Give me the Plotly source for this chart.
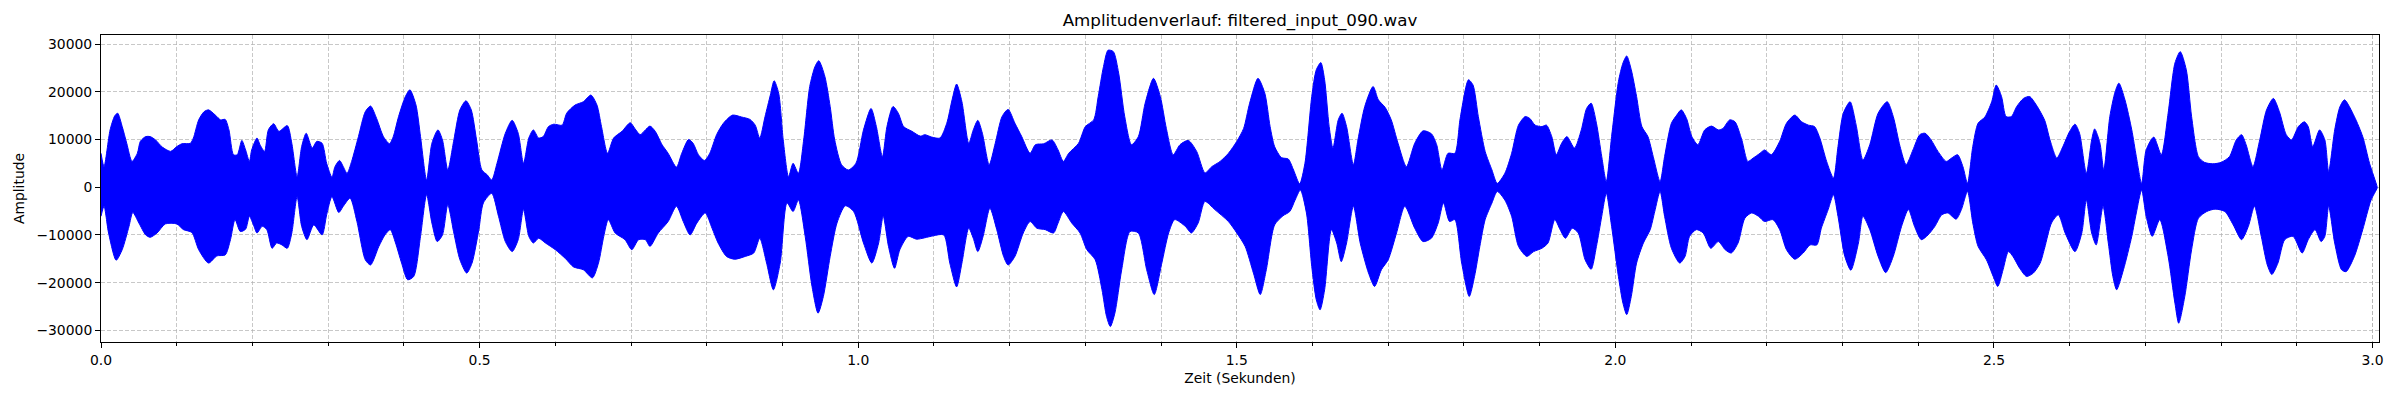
import plotly.graph_objects as go

# upper / lower envelope of the waveform (seconds, amplitude)
upper_t = [
    0.000, 0.004, 0.012, 0.018, 0.022, 0.028, 0.034, 0.041, 0.048, 0.052, 0.059, 0.065, 0.072, 0.081, 0.092, 0.100,
    0.107, 0.118, 0.122, 0.129, 0.136, 0.142, 0.151, 0.158, 0.164, 0.169, 0.175, 0.180, 0.186, 0.191, 0.196, 0.199,
    0.206, 0.210, 0.216, 0.221, 0.228, 0.235, 0.246, 0.252, 0.259, 0.265, 0.271, 0.279, 0.285, 0.292, 0.298, 0.305,
    0.309, 0.315, 0.320, 0.325, 0.331, 0.340,
    0.349, 0.356, 0.364, 0.373, 0.381, 0.386, 0.393, 0.402, 0.408, 0.416, 0.422, 0.430, 0.437, 0.445, 0.451, 0.458,
    0.466, 0.474, 0.482, 0.489, 0.496, 0.503, 0.510, 0.516, 0.523, 0.534, 0.543, 0.551, 0.558, 0.565, 0.571, 0.578,
    0.584, 0.591, 0.598, 0.609, 0.615, 0.626, 0.637, 0.647, 0.655, 0.661, 0.669, 0.677, 0.688, 0.699, 0.705, 0.712,
    0.719, 0.725, 0.732, 0.741, 0.749, 0.760, 0.767, 0.776, 0.782, 0.789, 0.797, 0.804, 0.813, 0.822, 0.834, 0.846,
    0.857, 0.864, 0.870, 0.877, 0.884, 0.889, 0.895, 0.901, 0.908, 0.914, 0.921, 0.928, 0.936, 0.943, 0.948, 0.956,
    0.963, 0.969, 0.978, 0.987, 0.997, 1.007, 1.017, 1.024, 1.032, 1.038, 1.046, 1.053, 1.060, 1.071, 1.082,
    1.088, 1.097, 1.108, 1.117, 1.124, 1.130, 1.137, 1.146, 1.152, 1.158, 1.164, 1.173, 1.181, 1.190, 1.198, 1.207,
    1.216, 1.227, 1.234, 1.245, 1.256, 1.264, 1.271, 1.278, 1.291, 1.300, 1.311, 1.317, 1.324, 1.330, 1.337, 1.344,
    1.352, 1.361, 1.370, 1.379, 1.390, 1.399, 1.407, 1.416, 1.425, 1.436, 1.447,
    1.458, 1.467, 1.478, 1.489, 1.500, 1.509, 1.517, 1.528, 1.537, 1.544, 1.550, 1.559, 1.568, 1.575, 1.583, 1.590,
    1.599, 1.605, 1.611, 1.616, 1.622, 1.627, 1.634, 1.639, 1.645, 1.654, 1.660, 1.669, 1.680, 1.687, 1.696, 1.704,
    1.713, 1.724, 1.735, 1.746, 1.757, 1.764, 1.771, 1.779, 1.788, 1.795, 1.806, 1.812, 1.819,
    1.828, 1.837, 1.844, 1.854, 1.863, 1.872, 1.881, 1.887, 1.894, 1.903, 1.909, 1.916, 1.922, 1.929, 1.936, 1.946,
    1.955, 1.962, 1.968, 1.975, 1.982, 1.988, 1.995, 2.004, 2.010, 2.015, 2.021, 2.028, 2.035, 2.043, 2.050, 2.059,
    2.065, 2.074, 2.081, 2.087, 2.094, 2.101, 2.109, 2.118, 2.127, 2.136, 2.142, 2.151, 2.158, 2.167, 2.175, 2.182,
    2.191,
    2.197, 2.206, 2.217, 2.226, 2.237, 2.246, 2.255, 2.263, 2.270, 2.279, 2.288, 2.294, 2.301, 2.310, 2.318, 2.327,
    2.336, 2.347, 2.359, 2.367, 2.376, 2.384, 2.393, 2.402, 2.409, 2.417, 2.426, 2.437, 2.444, 2.452, 2.459, 2.465,
    2.472, 2.479, 2.488, 2.497, 2.503, 2.510, 2.516, 2.523, 2.530, 2.539, 2.547, 2.556,
    2.567, 2.574, 2.583, 2.591, 2.600, 2.607, 2.613, 2.622, 2.629, 2.633, 2.640, 2.645, 2.653, 2.660, 2.665, 2.673,
    2.682, 2.688, 2.695, 2.701, 2.711, 2.721, 2.730, 2.739, 2.746, 2.754, 2.761, 2.770, 2.778, 2.789, 2.800, 2.811,
    2.820, 2.827, 2.833, 2.842, 2.851, 2.860, 2.869, 2.877, 2.886, 2.893, 2.902, 2.910, 2.915, 2.921, 2.930,
    2.937, 2.942, 2.950, 2.957, 2.963, 2.976, 2.987, 2.996, 3.006,
]
upper_amp = [
    7100, 4300, 12000, 14900, 15500, 12700, 9200, 5400, 7100, 9600, 10600, 10600, 9900, 8400, 7500, 8500,
    9100, 9200, 10300, 14100, 15800, 16200, 15100, 14100, 14200, 12000, 6800, 6800, 9800, 7800, 5400, 7800,
    10300, 8900, 7500, 12000, 13300, 11700, 12900, 9200, 2200, 8500, 11300, 8200, 9600, 9200, 5000, 2100,
    4300, 5600, 4300, 2900, 5400, 10600,
    15800, 17000, 14400, 10600, 9100, 10600, 14800, 19000, 20400, 17200, 10600, 1500, 9200, 12000, 9900, 3600,
    9900, 16200, 18100, 16200, 9900, 3600, 2600, 1500, 5000, 11300, 14000, 11300, 5000, 10300, 12000, 10300,
    10600, 12700, 13200, 13000, 15500, 17200, 17900, 19300, 17200, 12700, 7100, 10300, 11700, 13500, 12300, 11000,
    12000, 12800, 11700, 8900, 7100, 4200, 7100, 10000, 9200, 6800, 5600, 7100, 11000, 13400, 15100, 14700,
    14200, 13000, 10300, 14800, 19300, 22300, 19700, 9900, 2200, 5000, 2900, 9900, 21100, 25300, 26500, 23200,
    16900, 9900, 4700, 3600, 5000, 12000, 16500, 12700, 6400, 12700, 16900, 15500, 12700, 11700, 10700,
    11000, 10500, 10300, 13400, 18300, 21600, 17900, 9200, 12000, 14000, 11300, 4700, 9200, 14800, 16300, 13400,
    10600, 7100, 8900, 9100, 9900, 7800, 5400, 7100, 9200, 12700, 14100, 19000, 25300, 28700, 28400, 23900,
    14800, 8900, 10600, 17600, 22800, 19000, 12300, 6800, 8900, 9800, 7500,
    3000, 4300, 5400, 7100, 9600, 12300, 17600, 22800, 19700, 12700, 8500, 6200, 5900, 3600, 700, 5000,
    19000, 24600, 26100, 22500, 12700, 8200, 14100, 15500, 12700, 4700, 9900, 16900, 21100, 18300, 16700, 14100,
    9200, 4300, 9200, 11800, 11200, 8900, 3600, 7100, 7100, 14400, 22500, 21400, 14800,
    7500, 3600, 800, 2900, 7100, 13000, 14800, 14400, 13000, 12700, 13000, 10600, 6800, 9200, 10600, 8200,
    12000, 16500, 17600, 13400, 6400, 1200, 10600, 22100, 26000, 27500, 24600, 19000, 12700, 10600, 6400, 1200,
    6400, 13400, 15100, 16200, 14400, 10600, 8900, 12000, 12800, 12000, 12300, 14100, 13700, 9900, 5400, 6100,
    7100,
    7800, 6800, 9600, 13400, 15100, 13700, 13000, 12700, 10300, 5400, 1900, 8500, 15500, 17900, 13000, 5700,
    8900, 15500, 17900, 14800, 8500, 4700, 7800, 11000, 11300, 9900, 7500, 5400, 6100, 6800, 4300, 800,
    8500, 13400, 14700, 17900, 21400, 19000, 14800, 14800, 16900, 18600, 19000, 17200,
    14000, 9900, 6100, 8500, 11700, 13200, 11300, 2900, 9900, 12200, 9200, 3600, 14800, 20000, 21800, 18300,
    12000, 6400, 800, 7800, 10500, 6800, 15500, 26000, 28400, 24600, 14800, 6400, 5200, 4900, 5200, 6400,
    9900, 11000, 8900, 4300, 9900, 16200, 18600, 15800, 11000, 9900, 12700, 13700, 12700, 8500, 12000,
    9900, 3300, 12000, 16900, 18300, 14800, 10600, 5000, 100,
]

lower_t = [
    0.000, 0.004, 0.010, 0.020, 0.028, 0.037, 0.042, 0.050, 0.059, 0.065, 0.074, 0.085, 0.100, 0.109, 0.120, 0.129,
    0.142, 0.153, 0.164, 0.171, 0.177, 0.184, 0.191, 0.196, 0.202, 0.206, 0.213, 0.219, 0.226, 0.232, 0.239, 0.246,
    0.252, 0.259, 0.265, 0.272, 0.281, 0.292, 0.298, 0.305, 0.314, 0.320, 0.329, 0.338,
    0.349, 0.356, 0.367, 0.375, 0.382, 0.389, 0.397, 0.405, 0.413, 0.422, 0.430, 0.437, 0.444, 0.451, 0.458, 0.466,
    0.474, 0.483, 0.490, 0.499, 0.505, 0.516, 0.525, 0.534, 0.543, 0.551, 0.558, 0.565, 0.571, 0.578, 0.587, 0.600,
    0.613, 0.624, 0.637, 0.649, 0.657, 0.664, 0.670, 0.679, 0.692, 0.701, 0.710,
    0.719, 0.725, 0.736, 0.749, 0.760, 0.769, 0.778, 0.787, 0.798, 0.807, 0.815, 0.826, 0.837, 0.851, 0.862, 0.870,
    0.879, 0.888, 0.897, 0.906, 0.914, 0.921, 0.930, 0.939, 0.947, 0.954, 0.963, 0.972, 0.983, 0.994, 1.007, 1.018,
    1.027, 1.033, 1.040, 1.048, 1.055, 1.066, 1.077,
    1.088, 1.099, 1.113, 1.121, 1.130, 1.137, 1.146, 1.152, 1.158, 1.165, 1.174, 1.183, 1.192, 1.198, 1.207, 1.218,
    1.227, 1.236, 1.247, 1.258, 1.264, 1.271, 1.282, 1.293, 1.302, 1.313, 1.322, 1.328, 1.333, 1.339, 1.348, 1.359,
    1.370, 1.381, 1.391, 1.401, 1.410, 1.418, 1.432, 1.440, 1.449,
    1.458, 1.471, 1.489, 1.500, 1.511, 1.522, 1.531, 1.539, 1.550, 1.561, 1.570, 1.577, 1.584, 1.592, 1.599, 1.605,
    1.610, 1.616, 1.625, 1.632, 1.638, 1.645, 1.654, 1.663, 1.674, 1.682, 1.691, 1.700, 1.711, 1.722, 1.735, 1.746,
    1.757, 1.766, 1.773, 1.781, 1.788, 1.797, 1.807, 1.814, 1.821,
    1.828, 1.837, 1.844, 1.854, 1.863, 1.872, 1.883, 1.892, 1.903, 1.911, 1.920, 1.927, 1.934, 1.943, 1.951, 1.960,
    1.968, 1.975, 1.982, 1.988, 1.995, 2.004, 2.010, 2.015, 2.021, 2.028, 2.037, 2.046, 2.052, 2.059, 2.065, 2.074,
    2.085, 2.092, 2.098, 2.107, 2.116, 2.126, 2.136, 2.145, 2.153, 2.162, 2.171, 2.180, 2.189,
    2.197, 2.208, 2.217, 2.226, 2.237, 2.248, 2.257, 2.266, 2.272, 2.281, 2.288, 2.294, 2.303, 2.311, 2.321, 2.327,
    2.336, 2.347, 2.357, 2.367, 2.378, 2.387, 2.395, 2.404, 2.413, 2.422, 2.431, 2.439, 2.450, 2.457, 2.465, 2.472,
    2.479, 2.490, 2.499, 2.505, 2.512, 2.519, 2.525, 2.534, 2.543, 2.552, 2.561,
    2.567, 2.576, 2.585, 2.594, 2.607, 2.616, 2.622, 2.629, 2.635, 2.644, 2.651, 2.657, 2.662, 2.671, 2.682, 2.688,
    2.695, 2.701, 2.709, 2.719, 2.730, 2.739, 2.744, 2.752, 2.761, 2.770, 2.781, 2.792, 2.805, 2.816, 2.827, 2.836,
    2.844, 2.853, 2.861, 2.867, 2.875, 2.884, 2.895, 2.907, 2.915, 2.924, 2.932,
    2.937, 2.942, 2.950, 2.959, 2.965, 2.976, 2.987, 2.998, 3.006,
]
lower_amp = [
    -6100, -4000, -9600, -15300, -13100, -8200, -5300, -7500, -10000, -10500, -9600, -7700, -7700, -8900, -9500, -13100,
    -15900, -14400, -14200, -11000, -6800, -9300, -8800, -6100, -8200, -9600, -8200, -8900, -12800, -11700, -12100, -12800,
    -9600, -2000, -8200, -11000, -7900, -10000, -5800, -2000, -5300, -4000, -2300, -7200,
    -15200, -16300, -12400, -10000, -8900, -11700, -15900, -19400, -18700, -10300, -1600, -7500, -11400, -10000, -3700, -9600,
    -15200, -18000, -15900, -8900, -3300, -1300, -6100, -11400, -13500, -11000, -4700, -10300, -11700, -10700, -11700, -13100,
    -14900, -16700, -17300, -19000, -15900, -10300, -6800, -9600, -11000, -13100, -11000,
    -11000, -12400, -9600, -7200, -4000, -7200, -10000, -7500, -5400, -8600, -11700, -14500, -15100, -14500, -13800, -10700,
    -15900, -21500, -15900, -3300, -5100, -2700, -10300, -20800, -26400, -22900, -14500, -7500, -3900, -5100, -11700, -15900,
    -11700, -6100, -12400, -17000, -13100, -10300, -10900,
    -10600, -10200, -10000, -15900, -20900, -15900, -8600, -10700, -13500, -10300, -4400, -8900, -14500, -16300, -14500, -9600,
    -7200, -8600, -8900, -9600, -7500, -5100, -7500, -9600, -13100, -15200, -21500, -27100, -29200, -26400, -17300, -9300,
    -9600, -17300, -22500, -15900, -9600, -6800, -8200, -9600, -7500,
    -3000, -4700, -7200, -9600, -12400, -18000, -22500, -17300, -7900, -6000, -5100, -2700, -600, -5400, -16600, -23600,
    -25700, -21500, -8900, -11700, -15600, -11700, -4000, -11700, -18000, -20800, -17300, -15200, -9600, -4000, -8600, -11400,
    -10700, -7500, -3300, -7200, -6800, -15900, -22900, -18700, -12400,
    -6800, -3300, -900, -2700, -6100, -12400, -14500, -13500, -12800, -11700, -6800, -8900, -10700, -8600, -9600, -15200,
    -17200, -12400, -6100, -1300, -8200, -18700, -24300, -26700, -22900, -15900, -11700, -8900, -5100, -900, -6100, -12800,
    -15900, -14500, -10300, -8900, -9600, -12800, -11400, -13100, -13800, -11700, -6500, -5400, -6100,
    -7200, -6800, -8900, -13100, -15100, -13800, -12100, -12100, -8600, -4700, -1600, -6100, -14500, -17400, -11700, -6100,
    -8900, -14500, -17900, -14500, -8200, -4700, -8200, -11000, -10000, -8200, -5800, -5400, -6700, -4700, -900, -7500,
    -12400, -15200, -18700, -20800, -17300, -13500, -14500, -17000, -18700, -18000, -15900,
    -12700, -7500, -5800, -9600, -13500, -9600, -2700, -9600, -12100, -4000, -11700, -18700, -21500, -17300, -10300, -5400,
    -600, -6100, -10300, -6800, -14500, -24300, -28500, -22900, -13100, -6500, -5100, -4600, -5100, -7900, -11000, -8200,
    -4000, -10300, -16300, -18300, -15900, -11000, -10300, -13800, -11000, -8900, -11400,
    -10300, -4000, -11700, -17300, -17700, -14500, -8900, -2700, -200,
]

x_ticks = [0.0, 0.5, 1.0, 1.5, 2.0, 2.5, 3.0]
y_ticks = [-30000, -20000, -10000, 0, 10000, 20000, 30000]

FONT = "DejaVu Sans"
GRID = "rgba(176,176,176,0.7)"

# the page keeps its 8px body margin, so the figure is 8px smaller
W, H = 2392, 392

# closed outline: along the top, back along the bottom
fig = go.Figure()
fig.add_trace(go.Scatter(
    x=upper_t + lower_t[::-1],
    y=upper_amp + lower_amp[::-1],
    mode="lines",
    fill="toself",
    fillcolor="#0000ff",
    line=dict(color="#0000ff", width=1, shape="spline", smoothing=0.7),
    hoverinfo="skip",
    showlegend=False,
))

fig.update_layout(
    width=W, height=H,
    margin=dict(l=93, r=21, t=27, b=58),
    paper_bgcolor="white", plot_bgcolor="white",
    font=dict(family=FONT, size=13.9, color="black"),
    title=dict(text="Amplitudenverlauf: filtered_input_090.wav", x=0.5, xref="paper",
               y=1 - 12 / H, yref="container", yanchor="middle",
               font=dict(family=FONT, size=16.7, color="black")),
)
fig.update_xaxes(
    range=[0, 3.0085], tickvals=x_ticks, tickformat=".1f",
    ticks="outside", ticklen=5, tickwidth=1, tickcolor="black",
    showline=True, mirror=True, linecolor="black", linewidth=1,
    showgrid=True, gridcolor=GRID, griddash="4px,2px", gridwidth=1, zeroline=False,
    minor=dict(dtick=0.1, ticks="outside", ticklen=3, tickwidth=1, tickcolor="black",
               showgrid=True, gridcolor=GRID, griddash="4px,2px", gridwidth=1),
    title=dict(text="Zeit (Sekunden)", standoff=6, font=dict(size=13.9)),
)
fig.update_yaxes(
    range=[-32440, 31885], tickvals=y_ticks, tickformat="d",
    ticks="outside", ticklen=5, tickwidth=1, tickcolor="black",
    showline=True, mirror=True, linecolor="black", linewidth=1,
    showgrid=True, gridcolor=GRID, griddash="4px,2px", gridwidth=1, zeroline=False,
    title=dict(text="Amplitude", standoff=8, font=dict(size=13.9)),
)

fig.write_html("out.html")
